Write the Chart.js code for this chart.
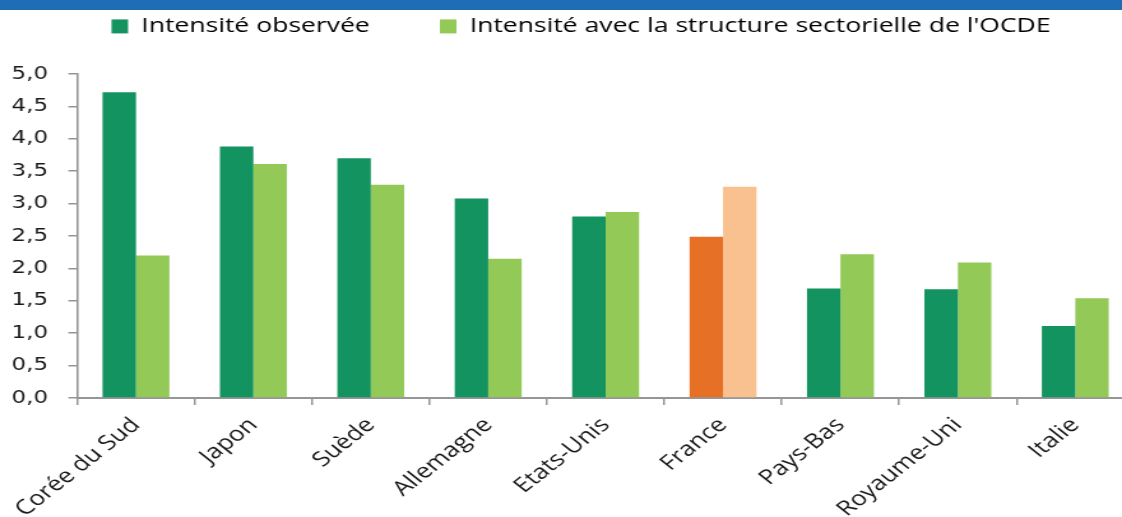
<!DOCTYPE html>
<html>
<head>
<meta charset="utf-8">
<script src="https://cdn.jsdelivr.net/npm/chart.js@4"></script>
<style>
  html, body { margin: 0; background: #fff; overflow: hidden; }
  #cadre { position: relative; width: 1122px; height: 517px; overflow: hidden; }
  /* the original picture is stretched horizontally, so the canvas is too */
  #etire { position: absolute; left: 0; top: 0; width: 894px; height: 517px; transform: scaleX(1.275); transform-origin: 0 0; }
  #bandeau { position: absolute; left: 0; top: 0; width: 1122px; height: 10px; background: #1f6db4; }
</style>
</head>
<body>
<div id="cadre">
  <div id="etire"><canvas id="chartIntensite" width="894" height="517"></canvas></div>
  <div id="bandeau"></div>
</div>
<script>
const pays = ['Corée du Sud', 'Japon', 'Suède', 'Allemagne', 'Etats-Unis', 'France', 'Pays-Bas', 'Royaume-Uni', 'Italie'];
const intensiteObservee = [4.72, 3.88, 3.70, 3.08, 2.80, 2.49, 1.69, 1.68, 1.11];
const intensiteStructureOCDE = [2.20, 3.61, 3.29, 2.15, 2.87, 3.26, 2.22, 2.09, 1.54];
const yTicks = [0, 0.5, 1, 1.5, 2, 2.5, 3, 3.5, 4, 4.5, 5];

const vertFonce = '#13935f';
const vertClair = '#92c957';
const orangeFonce = '#e67026';
const orangeClair = '#fac190';
const gris = '#969696';

const couleurs = (base, france) => pays.map(p => p === 'France' ? france : base);

// legend: wide gap between items but a compact vertical position
const legendeDecalee = {
    id: 'legendeDecalee',
    afterInit(chart) {
        const lg = chart.legend;
        const fit = lg.fit.bind(lg);
        lg.fit = function () { fit(); this.height = 74; };
        const draw = lg.draw.bind(lg);
        lg.draw = function () {
            chart.ctx.save();
            chart.ctx.translate(11, -39);
            draw();
            chart.ctx.restore();
        };
    }
};

const ctx = document.getElementById('chartIntensite').getContext('2d');

new Chart(ctx, {
    type: 'bar',
    data: {
        labels: pays,
        datasets: [
            { label: 'Intensité observée', data: intensiteObservee, backgroundColor: couleurs(vertFonce, orangeFonce) },
            { label: "Intensité avec la structure sectorielle de l'OCDE", data: intensiteStructureOCDE, backgroundColor: couleurs(vertClair, orangeClair) }
        ]
    },
    plugins: [legendeDecalee],
    options: {
        animation: false,
        responsive: false,
        categoryPercentage: 0.57,
        barPercentage: 1.0,
        layout: { padding: { left: 0, right: 4.6, top: 0, bottom: 0 } },
        plugins: {
            tooltip: { enabled: false },
            legend: {
                position: 'top',
                labels: {
                    boxWidth: 13,
                    boxHeight: 14,
                    padding: 55,
                    color: '#1a1a1a',
                    font: { family: 'Open Sans', size: 20.8 },
                    generateLabels: () => [
                        { text: 'Intensité observée', fillStyle: vertFonce, strokeStyle: vertFonce, lineWidth: 0, datasetIndex: 0 },
                        { text: "Intensité avec la structure sectorielle de l'OCDE", fillStyle: vertClair, strokeStyle: vertClair, lineWidth: 0, datasetIndex: 1 }
                    ]
                }
            }
        },
        scales: {
            x: {
                offset: true,
                afterFit: s => { s.height = 119; },
                grid: { display: true, offset: true, drawOnChartArea: false, drawTicks: true, tickLength: 7, color: gris, lineWidth: 1.5 },
                border: { color: gris, width: 2 },
                ticks: {
                    maxRotation: 45,
                    minRotation: 45,
                    autoSkip: false,
                    color: '#1a1a1a',
                    padding: 8,
                    font: { family: 'Open Sans', size: 20.5 }
                }
            },
            y: {
                min: 0,
                max: 5,
                afterFit: s => { s.width = 60.6; },
                afterBuildTicks: axis => { axis.ticks = yTicks.map(v => ({ value: v })); },
                grid: { display: true, drawOnChartArea: false, drawTicks: true, tickLength: 7, color: gris, lineWidth: 1.5 },
                border: { color: gris, width: 1.6 },
                ticks: {
                    color: '#1a1a1a',
                    padding: 16,
                    font: { family: 'DejaVu Sans', size: 18 },
                    callback: v => v.toFixed(1).replace('.', ',')
                }
            }
        }
    }
});
</script>
</body>
</html>
